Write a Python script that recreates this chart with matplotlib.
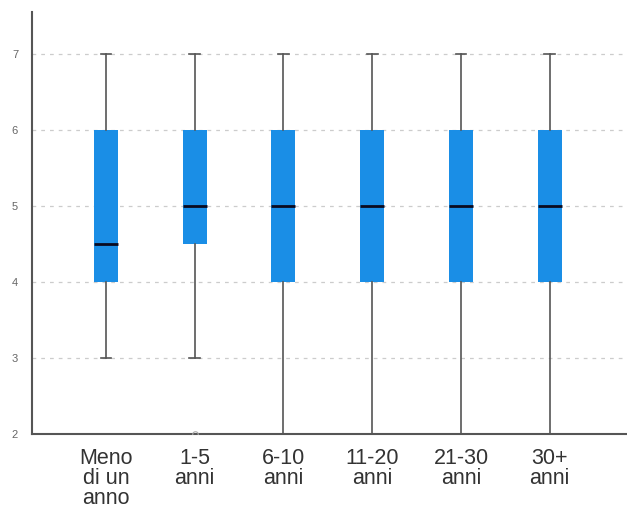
import matplotlib
matplotlib.use("Agg")
import matplotlib.pyplot as plt

categories = ["Meno\ndi un\nanno", "1-5\nanni", "6-10\nanni", "11-20\nanni", "21-30\nanni", "30+\nanni"]
whisker_low = [3, 3, 2, 2, 2, 2]
q1 = [4, 4.5, 4, 4, 4, 4]
median = [4.5, 5, 5, 5, 5, 5]
q3 = [6, 6, 6, 6, 6, 6]
whisker_high = [7, 7, 7, 7, 7, 7]
outliers = [[], [2], [], [], [], []]

plt.rcParams['font.family'] = ['Liberation Sans', 'DejaVu Sans']

fig = plt.figure(figsize=(6.27, 5.18), dpi=100)
ax = fig.add_axes([32 / 627, 1 - 434 / 518, 595 / 627, 422 / 518])

stats = []
for i in range(len(categories)):
    stats.append({
        "whislo": whisker_low[i], "q1": q1[i], "med": median[i],
        "q3": q3[i], "whishi": whisker_high[i], "fliers": outliers[i],
    })

ax.bxp(stats, positions=range(1, len(categories) + 1), widths=0.27,
       patch_artist=True, showfliers=True,
       boxprops=dict(facecolor="#1a8ee6", edgecolor="#1a8ee6", linewidth=0),
       medianprops=dict(color="#0a0a20", linewidth=2),
       whiskerprops=dict(color="#555555", linewidth=1.2),
       capprops=dict(color="#555555", linewidth=1.2),
       capwidths=0.12,
       flierprops=dict(marker="o", markersize=4, markerfacecolor="none",
                       markeredgecolor="#aaaaaa", markeredgewidth=0.8),
       zorder=3)

ax.set_xlim(0.167, 6.87)
ax.set_ylim(2, 7.55)
ax.set_yticks([2, 3, 4, 5, 6, 7])
ax.set_xticks(range(1, len(categories) + 1))
ax.set_xticklabels(categories, fontsize=15.5, color="#333333", linespacing=0.95)
ax.tick_params(axis="y", labelsize=8, colors="#666666", length=0, pad=10)
ax.tick_params(axis="x", length=0, pad=10)
ax.grid(axis="y", linestyle=(0, (3, 4)), color="#cccccc", linewidth=0.9, zorder=0)
ax.set_axisbelow(True)

for s in ["top", "right"]:
    ax.spines[s].set_visible(False)
ax.spines["left"].set_color("#555555")
ax.spines["bottom"].set_color("#555555")
ax.spines["left"].set_linewidth(1.5)
ax.spines["bottom"].set_linewidth(1.5)

fig.savefig("out.png", dpi=100)
